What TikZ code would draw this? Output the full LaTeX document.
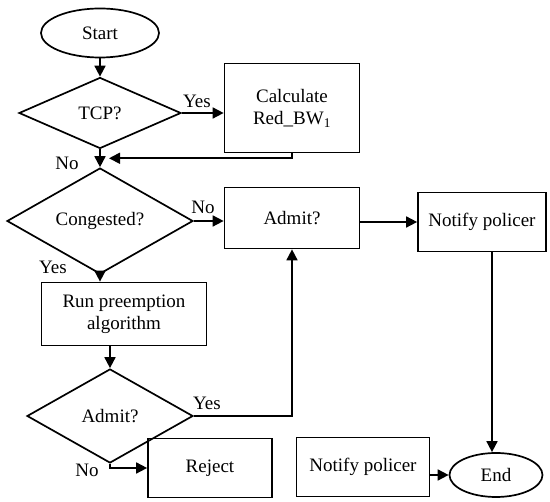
\documentclass[tikz,border=0pt]{standalone}
\usepackage{fontspec}
\setmainfont{Liberation Serif}
\usepackage{tikz}
\usetikzlibrary{shapes,arrows.meta,calc}
\tikzstyle{terminal} = [draw, ellipse, line width=1.7pt, inner sep=0pt]
\tikzstyle{decision} = [draw, diamond, line width=1.7pt, inner sep=0pt]
\tikzstyle{block} = [draw, rectangle, line width=1.7pt, align=center]
\tikzstyle{lbl} = [inner sep=0pt]
\tikzstyle{line} = [draw, line width=1.7pt, -{Triangle[length=11pt,width=11pt]}]

\begin{document}
\begin{tikzpicture}[x=1pt, y=1pt, font=\fontsize{19}{22}\selectfont]
  \useasboundingbox (0,0) rectangle (550,-502);
  \node [terminal, minimum width=118pt, minimum height=49pt] (start) at (100,-33) {Start};
  \node [decision, below of=start, node distance=80pt, minimum width=162pt, minimum height=71pt] (tcp) {TCP?};
  \node [block, right of=tcp, node distance=192pt, yshift=5pt, minimum width=135pt, minimum height=89pt] (calc) {Calculate\\Red\_BW\textsubscript{1}};
  \node [decision, below of=tcp, node distance=108pt, minimum width=186pt, minimum height=95pt] (cong) {Congested?};
  \node [block, right of=cong, node distance=192pt, yshift=3pt, minimum width=135pt, minimum height=61pt] (adm1) {Admit?};
  \node [block, right of=adm1, node distance=190pt, yshift=-4pt, minimum width=128pt, minimum height=59pt] (ntf1) {Notify policer};
  \node [block, below of=cong, node distance=93pt, xshift=24pt, minimum width=165pt, minimum height=63pt] (run) {Run preemption\\algorithm};
  \node [decision, below of=run, node distance=102pt, xshift=-14pt, minimum width=166pt, minimum height=94pt] (adm2) {Admit?};
  \node [block, right of=adm2, node distance=100pt, yshift=-52pt, minimum width=124pt, minimum height=59pt] (rej) {Reject};
  \node [block, right of=rej, node distance=153pt, yshift=1pt, minimum width=133pt, minimum height=59pt] (ntf2) {Notify policer};
  \node [terminal, right of=ntf2, node distance=133pt, yshift=-8pt, minimum width=93pt, minimum height=44pt] (stop) {End};
  \coordinate (merge) at ($(tcp.south)!0.5!(cong.north)+(9,0)$);
  % labels
  \node [lbl] (ly1) at (197,-101) {Yes};
  \node [lbl] (ln1) at (67,-163) {No};
  \node [lbl] (ln2) at (203,-207) {No};
  \node [lbl] (ly2) at (53,-267) {Yes};
  \node [lbl] (ly3) at (207,-403) {Yes};
  \node [lbl] (ln3) at (87,-470) {No};
  % connectors
  \draw [line] (start) -- (tcp);
  \draw [line] (tcp.east) -- (tcp.east -| calc.west);
  \draw [line] (tcp) -- (cong);
  \draw [line] (calc.south) |- (merge);
  \draw [line] (cong.east) -- (cong.east -| adm1.west);
  \draw [line] (ntf1.west -| adm1.east) -- (ntf1.west);
  \draw [line] (cong.south) -- (cong.south |- run.north);
  \draw [line] (adm2 |- run.south) -- (adm2.north);
  \draw [line] (adm2.east) -| (adm1);
  \draw [line] (adm2.south) |- (rej);
  \draw [line] ([xshift=10pt]ntf1.south) -- ([xshift=10pt]ntf1.south |- stop.north);
  \draw [line] (ntf2.east |- stop) -- (stop);
\end{tikzpicture}
\end{document}
